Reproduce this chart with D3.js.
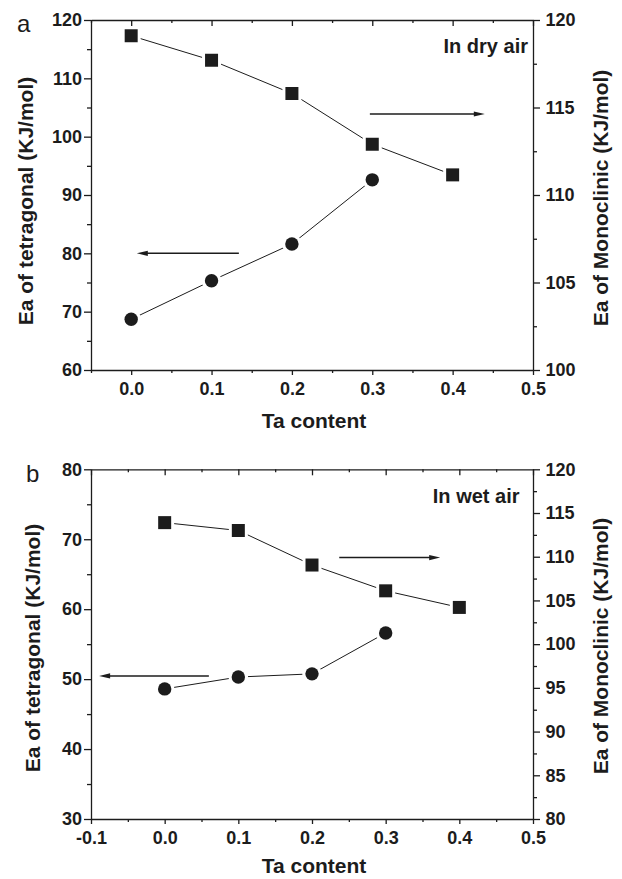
<!DOCTYPE html>
<html>
<head>
<meta charset="utf-8">
<script src="https://cdn.jsdelivr.net/npm/d3@7"></script>
<style>
  body { margin: 0; background: #fff; }
  svg { display: block; }
  text { font-family: "Liberation Sans", Arial, sans-serif; }
</style>
</head>
<body>
<div id="chart"></div>
<script>
// Ta content for each sample
var taContent = [0, 0.1, 0.2, 0.3, 0.4];

// activation energies, KJ/mol
var dryMonoclinic = [119.1, 117.7, 115.8, 112.9, 111.15];
var dryTetragonal = [68.7, 75.3, 81.6, 92.6];
var wetMonoclinic = [113.9, 113.0, 109.05, 106.1, 104.2];
var wetTetragonal = [48.6, 50.3, 50.75, 56.6];

// tick values
var dryXTicks = [0, 0.1, 0.2, 0.3, 0.4, 0.5];
var dryXMinor = [-0.05, 0.05, 0.15, 0.25, 0.35, 0.45];
var dryLeftTicks = [60, 70, 80, 90, 100, 110, 120];
var dryLeftMinor = [65, 75, 85, 95, 105, 115];
var dryRightTicks = [100, 105, 110, 115, 120];
var dryRightMinor = [102.5, 107.5, 112.5, 117.5];

var wetXTicks = [-0.1, 0, 0.1, 0.2, 0.3, 0.4, 0.5];
var wetXMinor = [-0.05, 0.05, 0.15, 0.25, 0.35, 0.45];
var wetLeftTicks = [30, 40, 50, 60, 70, 80];
var wetLeftMinor = [35, 45, 55, 65, 75];
var wetRightTicks = [80, 85, 90, 95, 100, 105, 110, 115, 120];
var wetRightMinor = [82.5, 87.5, 92.5, 97.5, 102.5, 107.5, 112.5, 117.5];

// arrows pointing to the axis each series belongs to: [from x, to x, y]
var dryLeftArrow = [0.134, 0.007, 80];
var dryRightArrow = [0.297, 0.44, 114.63];
var wetLeftArrow = [0.06, -0.089, 50.45];
var wetRightArrow = [0.237, 0.374, 109.9];

var ink = "#1c1c1c";
var width = 622, height = 879;

var svg = d3.select("#chart").append("svg")
  .attr("width", width)
  .attr("height", height);

function styleAxis(g, fontSize) {
  g.attr("font-family", null).attr("font-size", null);
  g.selectAll("path, line").attr("stroke", ink).attr("stroke-width", 1.3);
  g.selectAll("text")
    .attr("fill", ink)
    .style("font-size", fontSize + "px")
    .style("font-weight", "bold");
}

function drawArrow(x, y, a) {
  var x1 = x(a[0]), x2 = x(a[1]), yy = y(a[2]);
  var dir = x2 > x1 ? 1 : -1;
  svg.append("line")
    .attr("x1", x1).attr("y1", yy)
    .attr("x2", x2 - dir * 8).attr("y2", yy)
    .attr("stroke", ink).attr("stroke-width", 1.5);
  svg.append("path")
    .attr("d", "M" + x2 + "," + yy + "L" + (x2 - dir * 11) + "," + (yy - 2.6) +
               "L" + (x2 - dir * 11) + "," + (yy + 2.6) + "Z")
    .attr("fill", ink);
}

function drawPanel(p) {
  var x = d3.scaleLinear().domain(p.xDomain).range([91, 533]);
  var yL = d3.scaleLinear().domain(p.leftDomain).range([p.bottom, p.top]);
  var yR = d3.scaleLinear().domain(p.rightDomain).range([p.bottom, p.top]);
  var fmtX = function(d) { return d.toFixed(1); };

  // minor ticks
  svg.append("g").attr("transform", "translate(0," + p.bottom + ")")
    .call(d3.axisBottom(x).tickValues(p.xMinor).tickSize(3).tickSizeOuter(0).tickFormat(""))
    .call(function(g) { g.select(".domain").remove(); styleAxis(g, 18); });
  svg.append("g").attr("transform", "translate(0," + p.top + ")")
    .call(d3.axisTop(x).tickValues(p.xMinor).tickSize(-3).tickSizeOuter(0).tickFormat(""))
    .call(function(g) { g.select(".domain").remove(); styleAxis(g, 18); });
  svg.append("g").attr("transform", "translate(91,0)")
    .call(d3.axisLeft(yL).tickValues(p.leftMinor).tickSize(4).tickSizeOuter(0).tickFormat(""))
    .call(function(g) { g.select(".domain").remove(); styleAxis(g, 18); });
  svg.append("g").attr("transform", "translate(533,0)")
    .call(d3.axisRight(yR).tickValues(p.rightMinor).tickSize(4).tickSizeOuter(0).tickFormat(""))
    .call(function(g) { g.select(".domain").remove(); styleAxis(g, 18); });

  // major axes
  svg.append("g").attr("transform", "translate(0," + p.bottom + ")")
    .call(d3.axisBottom(x).tickValues(p.xTicks).tickSize(5).tickSizeOuter(0)
      .tickPadding(7.5).tickFormat(fmtX))
    .call(function(g) { styleAxis(g, 18); });
  svg.append("g").attr("transform", "translate(0," + p.top + ")")
    .call(d3.axisTop(x).tickValues(p.xTicks).tickSize(-6).tickSizeOuter(0).tickFormat(""))
    .call(function(g) { styleAxis(g, 18); });
  svg.append("g").attr("transform", "translate(91,0)")
    .call(d3.axisLeft(yL).tickValues(p.leftTicks).tickSize(7).tickSizeOuter(0)
      .tickPadding(2).tickFormat(d3.format("d")))
    .call(function(g) { styleAxis(g, 18); });
  svg.append("g").attr("transform", "translate(533,0)")
    .call(d3.axisRight(yR).tickValues(p.rightTicks).tickSize(7).tickSizeOuter(0)
      .tickPadding(5.5).tickFormat(d3.format("d")))
    .call(function(g) { styleAxis(g, 18); });

  // series lines
  var lineR = d3.line().x(function(d, i) { return x(taContent[i]); }).y(function(d) { return yR(d); });
  var lineL = d3.line().x(function(d, i) { return x(taContent[i]); }).y(function(d) { return yL(d); });
  svg.append("path").datum(p.mono).attr("d", lineR)
    .attr("fill", "none").attr("stroke", ink).attr("stroke-width", 1);
  svg.append("path").datum(p.tetra).attr("d", lineL)
    .attr("fill", "none").attr("stroke", ink).attr("stroke-width", 1);

  // markers with a white halo so the lines stop short of them
  var sq = d3.symbol().type(d3.symbolSquare);
  var ci = d3.symbol().type(d3.symbolCircle);
  var mono = svg.append("g").selectAll("g").data(p.mono).join("g")
    .attr("transform", function(d, i) { return "translate(" + x(taContent[i]) + "," + yR(d) + ")"; });
  mono.append("path").attr("d", sq.size(19 * 19)).attr("fill", "#fff");
  mono.append("path").attr("d", sq.size(13 * 13)).attr("fill", ink);
  var tet = svg.append("g").selectAll("g").data(p.tetra).join("g")
    .attr("transform", function(d, i) { return "translate(" + x(taContent[i]) + "," + yL(d) + ")"; });
  tet.append("path").attr("d", ci.size(Math.PI * 9.8 * 9.8)).attr("fill", "#fff");
  tet.append("path").attr("d", ci.size(Math.PI * 6.7 * 6.7)).attr("fill", ink);

  drawArrow(x, yL, p.leftArrow);
  drawArrow(x, yR, p.rightArrow);

  // texts
  svg.append("text").attr("x", p.insetX).attr("y", p.insetY)
    .attr("text-anchor", "end").attr("fill", ink)
    .style("font-size", "20px").style("font-weight", "bold").text(p.inset);
  svg.append("text").attr("x", p.letterX).attr("y", p.letterY)
    .attr("fill", ink).style("font-size", "24px").text(p.letter);
  svg.append("text").attr("x", 314).attr("y", p.xTitleY)
    .attr("text-anchor", "middle").attr("fill", ink)
    .style("font-size", "21px").style("font-weight", "bold").text("Ta content");
  svg.append("text")
    .attr("transform", "translate(" + p.leftTitleX + "," + p.leftTitleY + ") rotate(-90)")
    .attr("text-anchor", "middle").attr("fill", ink)
    .style("font-size", "21px").style("font-weight", "bold").text("Ea of tetragonal (KJ/mol)");
  svg.append("text")
    .attr("transform", "translate(608," + p.rightTitleY + ") rotate(-90)")
    .attr("text-anchor", "middle").attr("fill", ink)
    .style("font-size", "21px").style("font-weight", "bold").text("Ea of Monoclinic (KJ/mol)");
}

drawPanel({
  top: 20, bottom: 370,
  xDomain: [-0.05, 0.5], leftDomain: [60, 120], rightDomain: [100, 120],
  xTicks: dryXTicks, xMinor: dryXMinor,
  leftTicks: dryLeftTicks, leftMinor: dryLeftMinor,
  rightTicks: dryRightTicks, rightMinor: dryRightMinor,
  mono: dryMonoclinic, tetra: dryTetragonal,
  leftArrow: dryLeftArrow, rightArrow: dryRightArrow,
  inset: "In dry air", insetX: 528, insetY: 53,
  letter: "a", letterX: 17, letterY: 32,
  xTitleY: 428, leftTitleX: 33, leftTitleY: 201, rightTitleY: 198
});

drawPanel({
  top: 469.3, bottom: 819,
  xDomain: [-0.1, 0.5], leftDomain: [30, 80], rightDomain: [80, 120],
  xTicks: wetXTicks, xMinor: wetXMinor,
  leftTicks: wetLeftTicks, leftMinor: wetLeftMinor,
  rightTicks: wetRightTicks, rightMinor: wetRightMinor,
  mono: wetMonoclinic, tetra: wetTetragonal,
  leftArrow: wetLeftArrow, rightArrow: wetRightArrow,
  inset: "In wet air", insetX: 519.5, insetY: 503,
  letter: "b", letterX: 26, letterY: 482,
  xTitleY: 873, leftTitleX: 40, leftTitleY: 648, rightTitleY: 646
});
</script>
</body>
</html>
